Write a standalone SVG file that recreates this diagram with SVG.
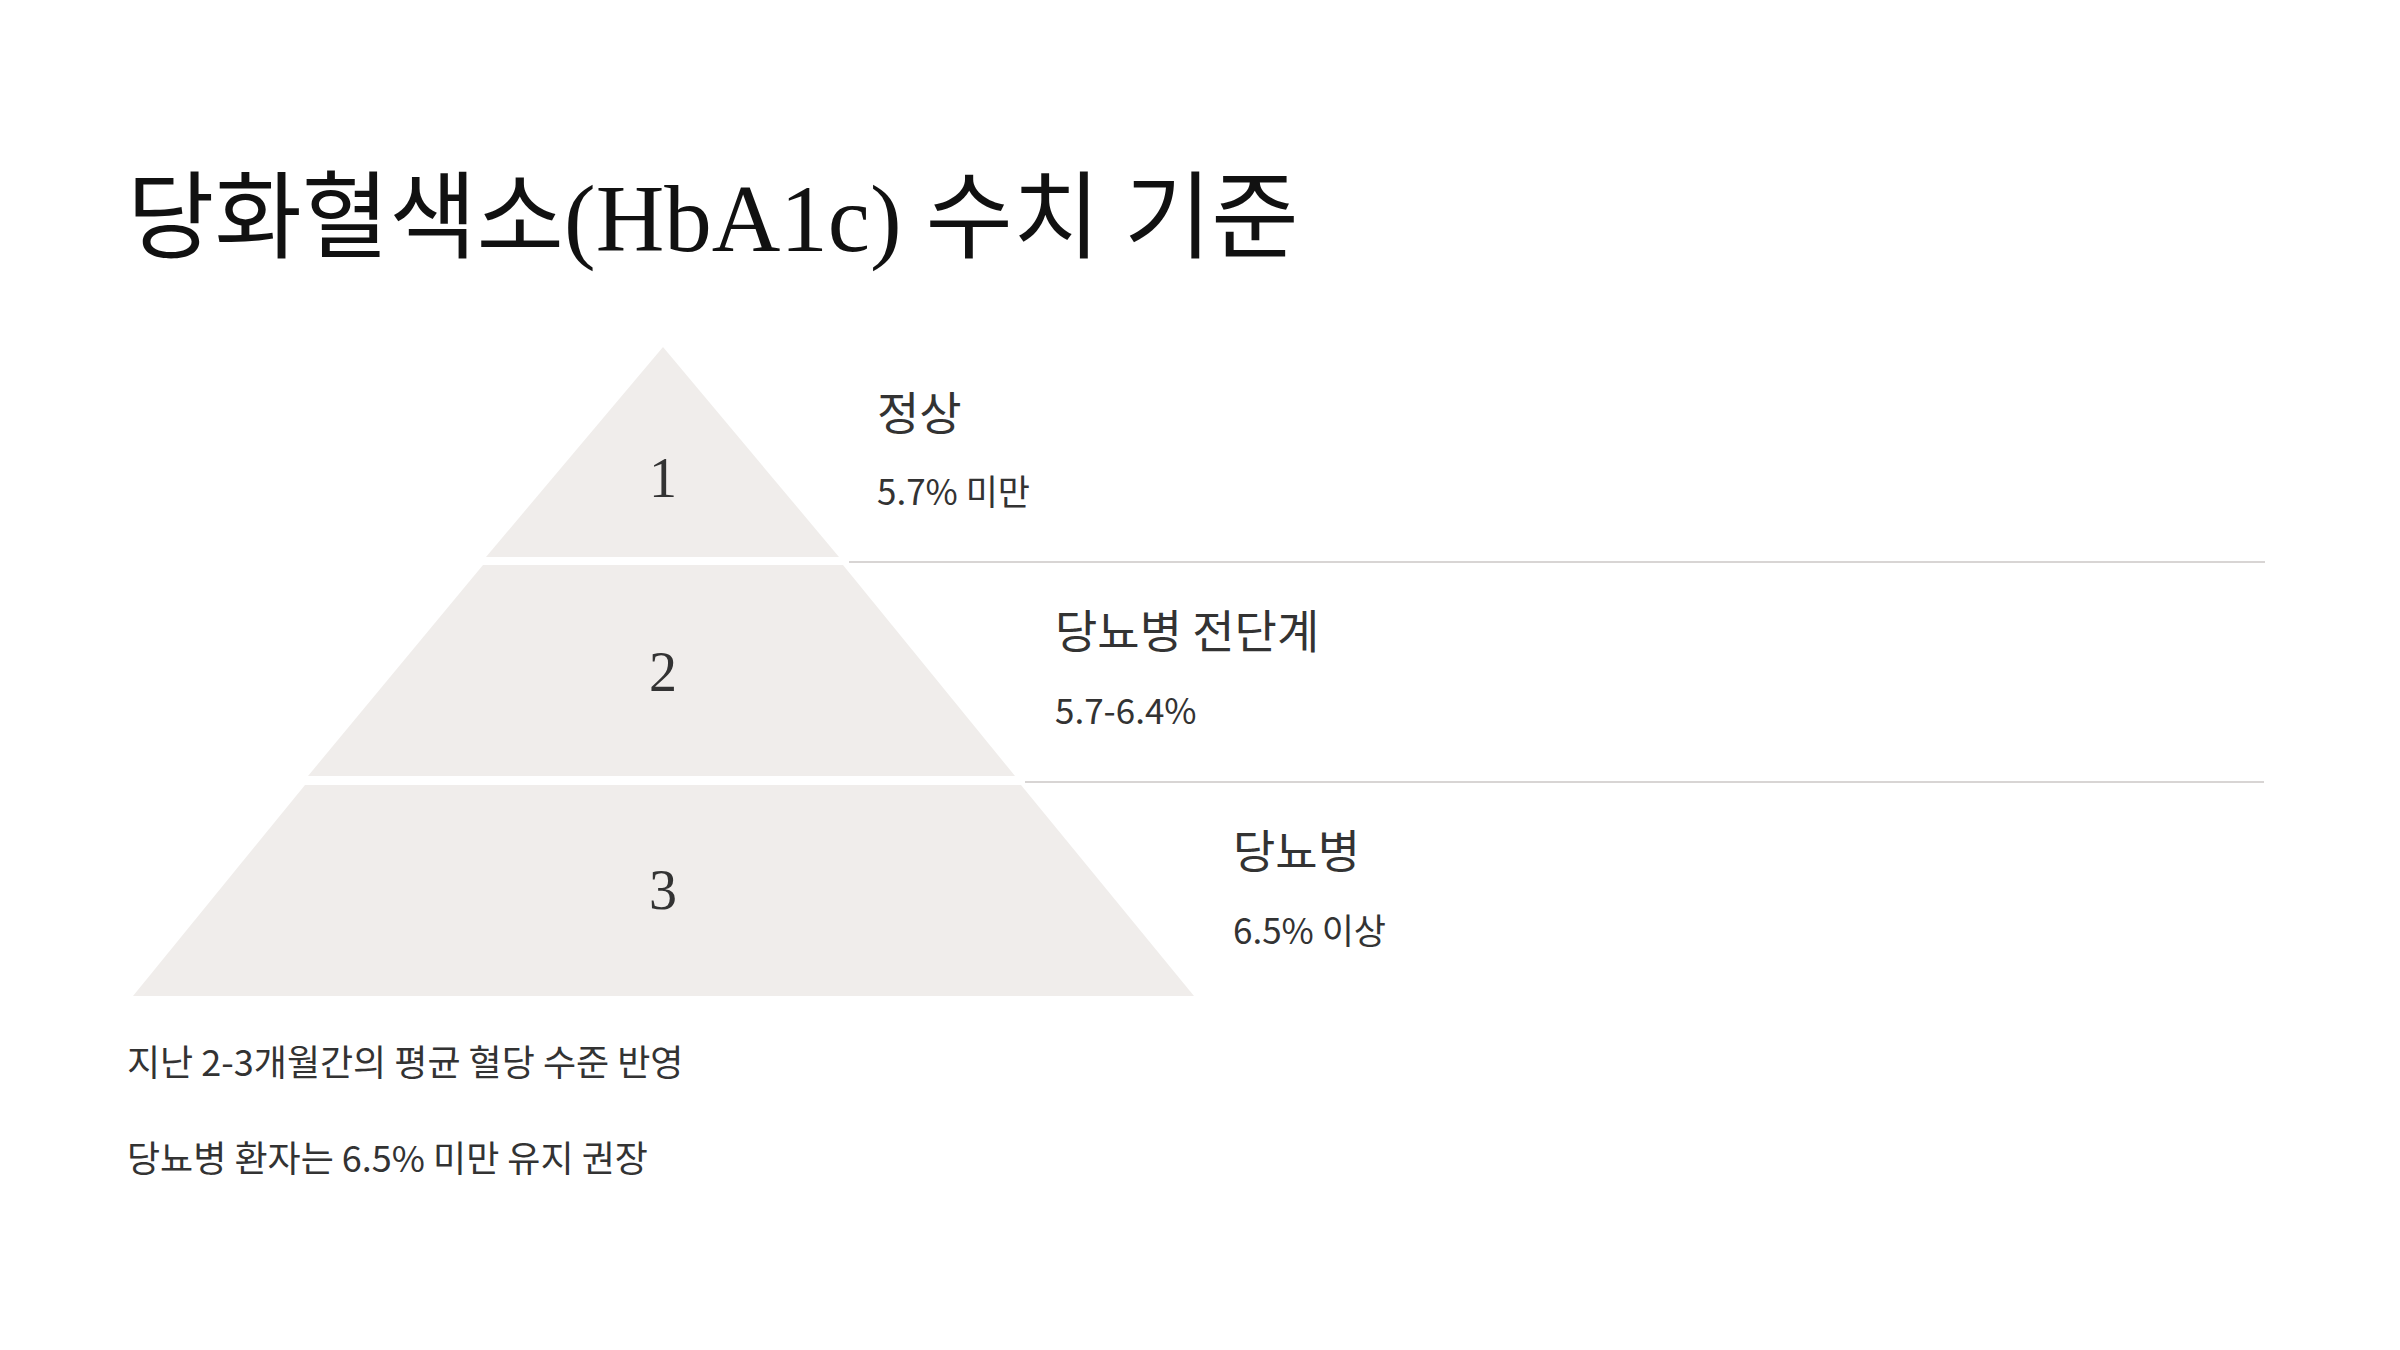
<svg xmlns="http://www.w3.org/2000/svg" width="2400" height="1350" viewBox="0 0 2400 1350">
  <style>
    .tier { fill: #f0edeb; }
    .num { font-family: "Liberation Serif", "Noto Sans CJK KR", serif; font-size: 56px; fill: #333333; text-anchor: middle; }
    .lbl { font-family: "Noto Sans CJK KR", sans-serif; font-size: 46px; fill: #333333; }
    .val { font-family: "Noto Sans CJK KR", sans-serif; font-size: 35px; fill: #333333; }
    .note { font-family: "Noto Sans CJK KR", sans-serif; font-size: 36px; fill: #333333; }
    .sep { stroke: #d8d5d4; stroke-width: 2; fill: none; }
  </style>
  <rect width="2400" height="1350" fill="#ffffff"/>
  <text id="title" x="127" y="251" font-family="Liberation Serif, Noto Sans CJK KR, serif" font-size="95" fill="#111111">당화혈색소(HbA1c) 수치 기준</text>

  <g id="connectors">
    <line class="sep" x1="849" y1="562" x2="2265" y2="562"/>
    <line class="sep" x1="1025" y1="782" x2="2264" y2="782"/>
  </g>

  <g id="tier1">
    <polygon class="tier" points="663,347 839,557 486,557"/>
    <text class="num" x="663" y="497">1</text>
    <text class="lbl" x="877" y="430">정상</text>
    <text class="val" x="877" y="505">5.7% 미만</text>
  </g>
  <g id="tier2">
    <polygon class="tier" points="483,565 843,565 1015,776 308,776"/>
    <text class="num" x="663" y="691">2</text>
    <text class="lbl" x="1055" y="648">당뇨병 전단계</text>
    <text class="val" x="1055" y="724">5.7-6.4%</text>
  </g>
  <g id="tier3">
    <polygon class="tier" points="305,785 1021,785 1194,996 133,996"/>
    <text class="num" x="663" y="909">3</text>
    <text class="lbl" x="1233" y="868">당뇨병</text>
    <text class="val" x="1233" y="944">6.5% 이상</text>
  </g>

  <g id="notes">
    <text class="note" x="127" y="1076">지난 2-3개월간의 평균 혈당 수준 반영</text>
    <text class="note" x="127" y="1172">당뇨병 환자는 6.5% 미만 유지 권장</text>
  </g>
</svg>
